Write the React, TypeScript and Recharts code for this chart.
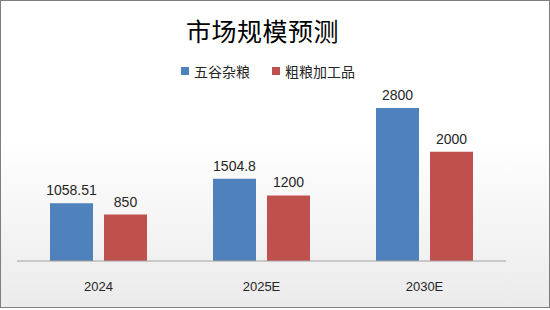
import { Bar, BarChart, LabelList, XAxis, YAxis } from "recharts";

const YEARS = ["2024", "2025E", "2030E"];
const GRAINS = [1058.51, 1504.8, 2800]; // 五谷杂粮
const PROCESSED = [850, 1200, 2000]; // 粗粮加工品
const SERIES_NAMES = ["五谷杂粮", "粗粮加工品"];

const BLUE = "#4F81BD";
const RED = "#C0504D";
const TEXT = "#262626";
const FONT = "'Liberation Sans', 'Noto Sans CJK SC', sans-serif";
const CJK = "'Noto Sans CJK SC', sans-serif";

const data = YEARS.map((year, i) => ({ year, grains: GRAINS[i], processed: PROCESSED[i] }));
const legendItems = [
  { name: SERIES_NAMES[0], color: BLUE },
  { name: SERIES_NAMES[1], color: RED },
];

export default function App() {
  return (
    <div
      style={{
        position: "absolute",
        left: 0,
        top: 0,
        width: 548,
        height: 306,
        border: "1px solid #7f7f7f",
        background: "linear-gradient(180deg, #ffffff 0%, #ffffff 45%, #ebebeb 100%)",
      }}
    >
      <div style={{ position: "absolute", top: 13, left: 185, fontFamily: CJK, fontSize: 25, color: "#000", lineHeight: "32px", letterSpacing: 0.5 }}>
        市场规模预测
      </div>
      {/* legend */}
      <div style={{ position: "absolute", top: 60, left: 180, display: "flex", gap: 22, fontFamily: CJK, fontSize: 14, color: TEXT, lineHeight: "20px" }}>
        {legendItems.map((it) => (
          <span key={it.name} style={{ display: "flex", alignItems: "center", gap: 5 }}>
            <span style={{ width: 8, height: 8, background: it.color, display: "inline-block" }} />
            {it.name}
          </span>
        ))}
      </div>
      <BarChart width={548} height={306} data={data} margin={{ top: 96, right: 43, bottom: 16, left: 16 }} barSize={43} barGap={11}>
        <YAxis hide domain={[0, 3000]} />
        <XAxis
          dataKey="year"
          tickLine={false}
          axisLine={{ stroke: "#a0a0a0" }}
          tick={{ fill: TEXT, fontSize: 13, fontFamily: FONT }}
          tickMargin={15}
          height={30}
        />
        <Bar dataKey="grains" name={SERIES_NAMES[0]} fill={BLUE} isAnimationActive={false}>
          <LabelList dataKey="grains" position="top" offset={8} fill={TEXT} fontSize={14} fontFamily={FONT} />
        </Bar>
        <Bar dataKey="processed" name={SERIES_NAMES[1]} fill={RED} isAnimationActive={false}>
          <LabelList dataKey="processed" position="top" offset={8} fill={TEXT} fontSize={14} fontFamily={FONT} />
        </Bar>
      </BarChart>
    </div>
  );
}
